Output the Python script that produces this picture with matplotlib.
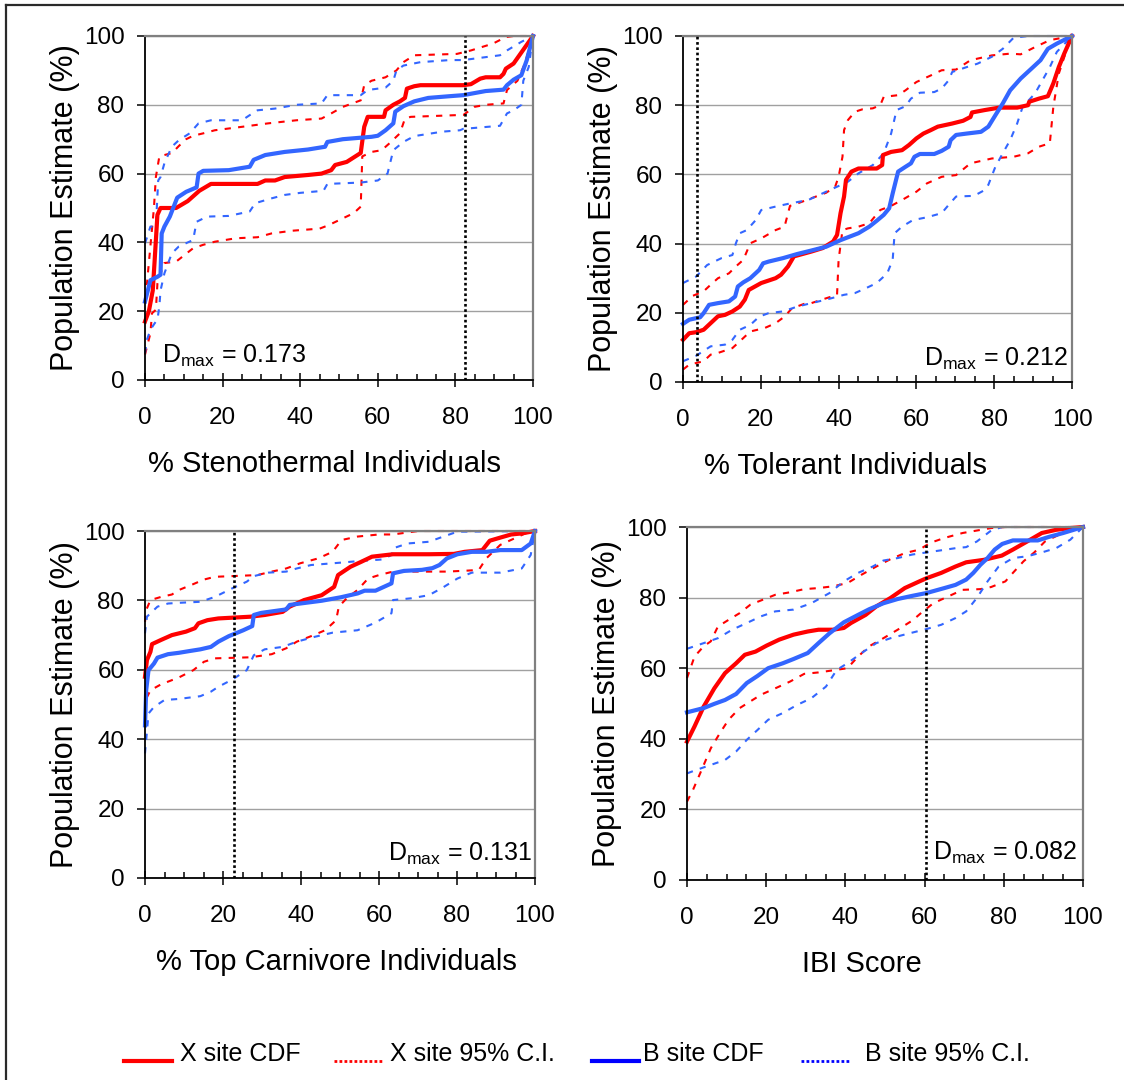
import matplotlib
matplotlib.use("Agg")
import matplotlib.pyplot as plt
from matplotlib.lines import Line2D
from matplotlib.ticker import MultipleLocator

plt.rcParams['font.family'] = ['Liberation Sans', 'DejaVu Sans']
plt.rcParams['mathtext.default'] = 'regular'

RED = '#ff0000'
BLUE = '#3366ff'

# ---- panel 1: % Stenothermal Individuals ----
sten_x_cdf_pct = [0, 1, 2, 2.5, 3.2, 4, 8, 11, 14, 17, 20, 29, 31, 33.5, 36, 42, 45.5, 48, 49, 52, 55.6, 56.5, 57.4, 61.6, 62, 64, 65.7, 67, 67.5, 69.4, 71, 82, 84, 86.4, 87.8, 91.5, 92.4, 93, 95, 100]
sten_x_cdf_est = [17, 20, 26, 35, 48, 50, 50, 52, 55, 57, 57, 57, 58, 58, 59, 59.6, 60, 61, 62.5, 63.4, 66, 73.6, 76.5, 76.5, 78.4, 80, 81, 82, 84.7, 85.4, 85.7, 85.7, 86, 87.6, 88, 88, 89, 90.5, 92, 100]
sten_b_cdf_pct = [0, 1.4, 3.2, 4, 4.3, 5, 6.4, 8.3, 10.6, 13.3, 13.8, 15, 21.6, 27, 28, 31, 36, 42, 46.4, 47, 51, 58.4, 60, 62, 64, 64.5, 66.6, 69.4, 73, 78.5, 82, 87.8, 92.4, 93.3, 95, 97, 98.4, 100]
sten_b_cdf_est = [22.8, 29, 30, 30.6, 42.6, 44.6, 47.5, 53, 54.7, 56, 60, 60.8, 61, 62, 64, 65.4, 66.3, 67, 67.8, 69.2, 70, 70.7, 71, 72.6, 74.6, 78, 79.6, 81, 82, 82.5, 82.8, 84, 84.4, 85.7, 87.3, 88.6, 93, 100]
sten_x_hi_pct = [0, 0.5, 2.3, 2.8, 3.7, 7, 8.7, 10.6, 12.4, 15, 18, 25, 31.7, 39, 45.5, 48, 51, 55.6, 56.5, 58.4, 62, 64.8, 66.6, 69.4, 80.4, 84, 89.7, 93, 95, 100]
sten_x_hi_est = [27.7, 28, 50, 59, 65, 66, 68, 70, 71, 71.7, 72.6, 73.6, 74.6, 75.5, 76, 77.5, 79.4, 81.3, 85.7, 87, 88, 90, 92.4, 94.4, 94.8, 95.8, 97.8, 99.7, 100, 100]
sten_x_lo_pct = [0, 1.4, 1.8, 2.8, 3.2, 4, 5, 8, 9.7, 12.4, 15, 18, 23.4, 29, 32.6, 38, 45, 47.3, 51, 53.8, 55.6, 56, 58.4, 61, 63, 65.7, 67, 68.5, 80.4, 82, 84.9, 87.8, 92.4, 93.3, 96, 97.9, 100]
sten_x_lo_est = [7.4, 13.6, 19.4, 20.4, 28, 31, 34, 34.4, 35.9, 38.3, 39.3, 40.2, 41.2, 41.5, 42.6, 43.4, 44, 45, 47, 48.5, 50.4, 65, 66.3, 66.8, 68.8, 71.7, 76, 76.5, 77, 77, 79.4, 80, 80.4, 84.3, 87, 92, 100]
sten_b_hi_pct = [0, 1.4, 2.8, 3.4, 4, 5, 6.9, 8.7, 11.5, 13.8, 17, 25, 27, 29, 33.5, 39, 45.5, 47, 55.6, 57.4, 62, 64, 64.8, 66.6, 71, 78.5, 82, 91.5, 93.3, 97, 100]
sten_b_hi_est = [39.7, 44.6, 44.6, 58, 59, 63, 67.8, 69.7, 71.7, 74.6, 75.5, 75.5, 77, 78.4, 78.9, 80, 80.4, 82.8, 82.8, 84.3, 85, 87, 90, 91.4, 92.4, 93, 93, 94.4, 95.8, 98.3, 100]
sten_b_lo_pct = [0, 0.5, 1.4, 2.5, 3.2, 3.7, 4, 5, 6.9, 8.7, 12.4, 13.3, 16, 21.6, 27, 28.4, 32.6, 36, 40, 46, 47, 55.6, 60, 62.5, 64, 66.6, 69.4, 76.7, 81.2, 82, 91.5, 93.3, 95, 97, 97.5, 98.9, 100]
sten_b_lo_est = [7.8, 11.7, 14.6, 16.5, 17.5, 21.4, 26, 31, 36.8, 38.8, 40.7, 46, 47.5, 47.7, 49, 51.4, 52.8, 53.8, 54.4, 55, 57, 57.4, 58, 60, 66.8, 69.2, 70.9, 72.2, 72.6, 73, 73.9, 77.5, 78.4, 80, 87, 91, 100]

# ---- panel 2: % Tolerant Individuals ----
tol_x_cdf_pct = [0, 1.6, 3.4, 5.3, 7.1, 9, 10.8, 12.7, 14.6, 15.9, 16.9, 20.1, 23.8, 25.2, 27, 28.5, 33, 35.9, 38.6, 39.6, 40.5, 41.4, 41.9, 43.3, 45.1, 49.8, 51.2, 51.4, 53.5, 56.3, 58.1, 60, 61.8, 63.7, 65.5, 69.2, 72, 73.9, 74.3, 77.6, 81.3, 85.9, 88.7, 89, 91.5, 93.8, 95.2, 96.6, 98, 100]
tol_x_cdf_est = [12.2, 14.1, 14.4, 15.1, 17, 19, 19.4, 20.4, 21.8, 23.8, 26.6, 28.6, 30, 31, 33.4, 36.3, 37.7, 38.7, 40.6, 42.5, 48.8, 53.6, 58.4, 60.8, 61.7, 61.7, 62.7, 65.6, 66.5, 67, 68.5, 70.4, 71.8, 72.8, 73.8, 74.7, 75.5, 76.6, 77.9, 78.6, 79.3, 79.3, 80, 81, 81.9, 82.6, 86.3, 91, 94.9, 100]
tol_b_cdf_pct = [0, 1.6, 4.4, 5.3, 6.7, 9, 11.8, 13.4, 14.1, 15.5, 17.3, 19.6, 20.6, 22, 25.7, 29.4, 33, 36.8, 40.5, 45.1, 47.9, 49.8, 51.6, 53, 53.9, 55.3, 57.2, 58.6, 59.5, 60.9, 64.6, 66.5, 68.3, 68.8, 70.2, 72.9, 76.6, 78.5, 80.3, 82.2, 84.1, 86.8, 89.6, 91.9, 93.8, 96.1, 100]
tol_b_cdf_est = [16.8, 18, 18.7, 19.9, 22.3, 22.8, 23.3, 24.7, 27.6, 28.8, 30, 32.4, 34.3, 34.8, 35.8, 37, 38, 39.1, 41, 43, 44.9, 46.6, 48.3, 50.2, 54.5, 60.8, 62.2, 63.2, 65.1, 65.9, 65.9, 66.8, 68, 69.9, 71.4, 71.8, 72.3, 73.8, 77.1, 80.5, 84.3, 87.7, 90.6, 93, 96.3, 97.8, 100]
tol_x_hi_pct = [0, 2.5, 5.3, 7.1, 9, 11.8, 13.6, 15.5, 17.3, 20.1, 23.8, 26.1, 27.5, 29.4, 33, 36.8, 39.1, 40, 41, 41.4, 42.4, 44.2, 46.1, 48.8, 50.7, 51.6, 55.3, 57.2, 60, 63.7, 66.5, 70.2, 73.9, 79.4, 84.1, 86.8, 90.5, 94.3, 100]
tol_x_hi_est = [22.3, 24.9, 26.2, 28.1, 30, 31.4, 33.4, 35.3, 40.1, 41.5, 43.9, 44.9, 50.9, 51.6, 53.1, 54.7, 56.4, 59.3, 65.1, 72.8, 75.7, 78.1, 78.8, 79.1, 80, 82.4, 82.9, 84.3, 86.7, 88.6, 90.1, 90.3, 93, 94.4, 94.9, 94.7, 96.8, 98.8, 100]
tol_x_lo_pct = [0, 1.6, 5.3, 7.1, 9, 12.7, 15.5, 17.3, 21, 23.8, 26.1, 28, 31.2, 33, 36.8, 39.6, 40, 41, 42.4, 45.1, 47.9, 50.7, 53.5, 56.3, 60, 62.7, 66.5, 70.2, 73.9, 79.4, 85, 88.7, 91.5, 94.3, 95.2, 96.6, 98, 100]
tol_x_lo_est = [3.6, 5, 6, 7.9, 8.4, 9.8, 12.7, 14.6, 15.6, 17, 18.9, 21.3, 22.6, 22.8, 24.2, 25.2, 35.3, 43.9, 44.4, 44.9, 45.9, 49.7, 50.9, 52.6, 55, 57.4, 59.3, 59.8, 63.2, 64.6, 65.1, 66.1, 68, 69, 79.5, 89.1, 93.9, 100]
tol_b_hi_pct = [0, 3.4, 6.2, 9.9, 12.7, 13.6, 14.6, 16.4, 18.7, 20.1, 23.8, 27.5, 32.2, 36.8, 40.5, 42.4, 45.1, 48.8, 51.6, 53.5, 54.9, 57.2, 58.6, 60.9, 64.6, 66.5, 68.3, 69.2, 72.9, 75.7, 79.4, 82.2, 85, 88.7, 100]
tol_b_hi_est = [28.6, 30.5, 33.8, 35.8, 36.7, 40.1, 43, 43.9, 46.8, 49.7, 50.7, 51.6, 52.6, 55, 56.9, 57.9, 60.3, 62.7, 66.1, 71.8, 78.6, 79.7, 81.9, 83.6, 83.8, 84.8, 87.2, 89.6, 91, 92, 94, 96.3, 99.5, 100, 100]
tol_b_lo_pct = [0, 3.4, 7.1, 10.8, 12.7, 14.6, 17.3, 19.6, 22, 25.7, 29.4, 33, 36.8, 41.4, 44.2, 47, 49.8, 52.5, 53.9, 54.4, 56.3, 59.1, 62.7, 66.5, 68.3, 70.2, 74.8, 77.6, 78.5, 80.3, 82.2, 84.1, 85.9, 87.3, 90.5, 92.4, 94.3, 96.1, 100]
tol_b_lo_est = [6, 7.6, 10.3, 10.8, 12.2, 15.1, 16.5, 18.9, 19.9, 20.4, 21.8, 22.8, 23.8, 25.2, 25.7, 27.1, 28.6, 31.4, 35.3, 43, 44.9, 46.8, 47.6, 48.8, 51.2, 53.6, 53.8, 55.5, 57, 62.2, 66.1, 69.9, 74.7, 79.5, 83.4, 87.2, 91, 95.4, 100]

# ---- panel 3: % Top Carnivore Individuals ----
carn_x_cdf_pct = [0, 0.5, 1.4, 1.8, 4.1, 6.9, 10.5, 12.8, 13.7, 16, 18.8, 27, 30.7, 35.3, 37.1, 40.8, 45.3, 48.5, 49.5, 52.7, 55.4, 58.2, 63.6, 72.8, 79.2, 82, 86.5, 88.4, 91.1, 93.9, 96.6, 100]
carn_x_cdf_est = [58, 62.8, 65.2, 67.4, 68.6, 70, 71, 72, 73.4, 74.3, 74.8, 75.3, 75.8, 76.7, 78.2, 80.1, 81.5, 83.9, 87.3, 89.7, 91.1, 92.6, 93.3, 93.3, 93.4, 94, 94.5, 97.2, 98.1, 99, 99.3, 100]
carn_b_cdf_pct = [0, 0.3, 0.9, 2.3, 3.2, 5.9, 8.7, 11.4, 14.2, 16.9, 18.8, 21.5, 25.2, 27.5, 27.9, 29.8, 36.2, 37.1, 39.8, 45.3, 50.2, 54.5, 56.3, 59.1, 63.2, 63.6, 66.4, 71, 73.7, 75.5, 77.4, 80.1, 83.8, 87.5, 91.1, 96.6, 98.9, 100]
carn_b_cdf_est = [44, 54.1, 59.9, 61.8, 63.5, 64.5, 64.9, 65.4, 65.9, 66.6, 68.1, 69.7, 71.4, 72.6, 75.8, 76.4, 77.4, 78.7, 79.1, 79.9, 80.9, 82, 82.8, 82.8, 84.9, 87.8, 88.5, 88.8, 89.3, 90.2, 92.1, 93.3, 94, 94, 94.5, 94.5, 96.4, 100]
carn_x_hi_pct = [0, 0.3, 1.4, 4.1, 6.9, 8.7, 12.4, 15.1, 17.9, 22.4, 28.8, 32.5, 36.2, 39.8, 44.4, 48.1, 50.4, 54.5, 60, 63.6, 70, 100]
carn_x_hi_est = [73.8, 77.2, 80.1, 81, 81.7, 83, 84.7, 86, 86.8, 87, 87.3, 88.3, 89.2, 90.7, 92.1, 94, 97.4, 98.4, 99, 99, 100, 100]
carn_x_lo_pct = [0, 0.5, 1.4, 4.1, 8.7, 12.4, 15.1, 17.9, 27, 32.5, 36.2, 38.9, 42.6, 46.2, 49, 49.7, 51.7, 54.5, 57.2, 60, 63.6, 68.2, 77.4, 82.9, 85.6, 87.5, 91.1, 94.8, 97.5, 100]
carn_x_lo_est = [48, 52.1, 54.1, 55.8, 57.8, 59.9, 62.3, 63.3, 63.6, 64.5, 66.2, 68.1, 69.7, 71.4, 74.3, 78.2, 80.6, 83, 86.3, 87.3, 88.3, 88.3, 88.3, 88.6, 88.8, 92.1, 96, 97.9, 99.3, 100]
carn_b_hi_pct = [0, 0.5, 1.4, 3.2, 5.9, 8.7, 14.2, 17.9, 22.4, 26.1, 27.9, 31.6, 36.2, 38.9, 42.6, 50.4, 54.5, 60.9, 63.2, 63.6, 67.3, 72.8, 76.5, 80.1, 100]
carn_b_hi_est = [70.5, 75.3, 76.3, 78.2, 79.1, 79.3, 79.6, 81, 83.5, 85.4, 87, 88, 88.3, 89.2, 90.2, 90.9, 91.3, 91.8, 93.1, 95, 96.4, 96.9, 98.4, 99.8, 100]
carn_b_lo_pct = [0, 0.3, 0.9, 2.3, 5, 8.7, 14.2, 16.9, 18.8, 22.4, 26.1, 27.9, 30.7, 35.3, 38.9, 43.5, 48.1, 54.5, 59.1, 63.2, 63.6, 68.2, 72.8, 76.5, 80.1, 83.8, 91.1, 96.6, 98.9, 100]
carn_b_lo_est = [35.9, 39.7, 47.4, 49.3, 51.3, 51.6, 52.4, 53.7, 55.1, 57.2, 59.9, 64.2, 65.9, 66.6, 68.1, 69.5, 70.7, 71.4, 73.6, 76.3, 80.1, 80.6, 81.5, 83.8, 86.3, 88, 88, 89.2, 93.1, 100]

# ---- panel 4: IBI Score ----
ibi_x_cdf_pct = [0, 1.9, 4.2, 6.9, 9.6, 12.4, 14.6, 17.3, 20.1, 23.3, 26.9, 30.5, 33.2, 36.9, 39.6, 41.4, 45.1, 47.8, 51.4, 55, 58.7, 60.5, 64.2, 67.8, 70.5, 75, 79.5, 82.3, 85.9, 89.6, 93.2, 96.8, 100]
ibi_x_cdf_est = [39.2, 43.5, 49.1, 54.3, 58.6, 61.4, 63.8, 64.7, 66.4, 68.1, 69.5, 70.4, 70.9, 70.9, 71.4, 72.8, 75.1, 77.5, 79.9, 82.7, 84.6, 85.5, 87, 88.8, 90, 90.7, 91.9, 93.6, 95.9, 98.3, 99.2, 99.7, 100]
ibi_b_cdf_pct = [0, 4.2, 6.9, 9.6, 12.4, 15.1, 17.8, 20.5, 24.2, 26.9, 30.5, 33.2, 36, 39.6, 43.2, 46, 49.6, 53.2, 56.9, 60.5, 65, 67.8, 70.5, 72.3, 74.1, 75.9, 77.7, 79.6, 82.3, 85.9, 88.6, 91.4, 95, 100]
ibi_b_cdf_est = [47.5, 48.7, 49.9, 51, 52.7, 55.8, 57.8, 60, 61.4, 62.6, 64.3, 67.1, 69.9, 73, 75.1, 76.7, 78.4, 79.6, 80.5, 81.3, 82.7, 83.6, 85.1, 87, 89.3, 91.2, 93.6, 95.2, 96.2, 96.2, 96.2, 97.2, 98.3, 100]
ibi_x_hi_pct = [0, 1.9, 4.2, 6, 7.8, 10.5, 13.3, 16, 19.6, 22.3, 26, 29.6, 33.2, 36.9, 40.5, 44.1, 47.8, 51.4, 55, 58.7, 61.4, 65, 69.6, 73.2, 76.8, 80.4, 100]
ibi_x_hi_est = [57.2, 63.3, 66.2, 67.6, 71.8, 73.7, 75.6, 78, 79.6, 80.8, 81.5, 82.4, 82.7, 83.2, 84.1, 86.5, 88.8, 90.9, 92.6, 93.6, 95.5, 96.9, 98.3, 99, 99.7, 100, 100]
ibi_x_lo_pct = [0, 1.5, 3.7, 6, 8.3, 10.5, 13.3, 16, 18.7, 22.3, 26, 29.6, 33.2, 36.9, 40.5, 43.2, 46, 49.6, 53.2, 56.9, 59.6, 62.2, 65.9, 69.6, 74.1, 76.8, 80.4, 82.3, 85, 87.7, 90.4, 93.2, 96.8, 100]
ibi_x_lo_est = [22.2, 25.5, 31.2, 37.3, 41.6, 45.4, 48.7, 50.6, 52.5, 54.3, 56.2, 58.4, 58.8, 59.4, 60, 63.3, 66.2, 68.5, 70.9, 73.5, 76.1, 78.4, 80.3, 82.2, 82.4, 83, 84.6, 87, 90.3, 92.8, 95.9, 97.4, 99.2, 100]
ibi_b_hi_pct = [0, 4.2, 7.8, 11.4, 15.1, 18.7, 22.3, 26.9, 31.4, 36, 39.6, 43.2, 46.9, 49.6, 53.2, 56.9, 60.5, 64.2, 67.8, 70.5, 73.2, 76.8, 79.6, 100]
ibi_b_hi_est = [65.5, 67.1, 68.5, 70.9, 72.8, 74.7, 76.1, 76.6, 78.4, 81.3, 84.6, 87, 88.8, 90.5, 91.2, 92.2, 92.8, 93.4, 94, 94.3, 95.9, 99, 100, 100]
ibi_b_lo_pct = [0, 2.4, 6, 9.6, 12.4, 15.1, 17.8, 20.5, 24.2, 27.8, 31.4, 35.1, 37.8, 40.5, 44.1, 47.8, 51.4, 55.9, 60.5, 64.2, 67.8, 70.5, 73.2, 75.9, 78.7, 82.3, 85.9, 89.6, 93.2, 96.8, 100]
ibi_b_lo_est = [30.2, 31.2, 32.6, 34, 36.4, 39.7, 42.5, 45.4, 47.3, 49.6, 51.5, 54.8, 59.5, 61.4, 64.3, 67.1, 68.5, 69.8, 71.1, 72.3, 74.2, 76.1, 79.9, 84.6, 88.8, 91.2, 91.7, 92.8, 94, 96.4, 100]

xlabels = ['% Stenothermal Individuals', '% Tolerant Individuals',
           '% Top Carnivore Individuals', 'IBI Score']
dmax_values = [0.173, 0.212, 0.131, 0.082]
dmax_locations = [82.6, 3.7, 22.7, 60.3]

W, H = 1124, 1080
fig = plt.figure(figsize=(W / 100, H / 100), dpi=100)

# axes boxes in pixels: left, top, right, bottom
boxes = [(145, 36, 533, 380), (683, 36, 1072, 382),
         (145, 531, 535, 878), (687, 527, 1083, 880)]
xlabel_centers = [324, 845, 336, 862]
text_spots = [(4.3, 4.9, 'left'), (98.9, 4.6, 'right'),
              (99.3, 5.1, 'right'), (98.4, 5.7, 'right')]

panels = [
    (sten_x_cdf_pct, sten_x_cdf_est, sten_b_cdf_pct, sten_b_cdf_est,
     sten_x_hi_pct, sten_x_hi_est, sten_x_lo_pct, sten_x_lo_est,
     sten_b_hi_pct, sten_b_hi_est, sten_b_lo_pct, sten_b_lo_est),
    (tol_x_cdf_pct, tol_x_cdf_est, tol_b_cdf_pct, tol_b_cdf_est,
     tol_x_hi_pct, tol_x_hi_est, tol_x_lo_pct, tol_x_lo_est,
     tol_b_hi_pct, tol_b_hi_est, tol_b_lo_pct, tol_b_lo_est),
    (carn_x_cdf_pct, carn_x_cdf_est, carn_b_cdf_pct, carn_b_cdf_est,
     carn_x_hi_pct, carn_x_hi_est, carn_x_lo_pct, carn_x_lo_est,
     carn_b_hi_pct, carn_b_hi_est, carn_b_lo_pct, carn_b_lo_est),
    (ibi_x_cdf_pct, ibi_x_cdf_est, ibi_b_cdf_pct, ibi_b_cdf_est,
     ibi_x_hi_pct, ibi_x_hi_est, ibi_x_lo_pct, ibi_x_lo_est,
     ibi_b_hi_pct, ibi_b_hi_est, ibi_b_lo_pct, ibi_b_lo_est),
]

for i, p in enumerate(panels):
    l, t, r, b = boxes[i]
    ax = fig.add_axes([l / W, 1 - b / H, (r - l) / W, (b - t) / H])
    (xc_x, xc_y, bc_x, bc_y, xh_x, xh_y, xl_x, xl_y,
     bh_x, bh_y, bl_x, bl_y) = p

    ci = dict(lw=1.5, dashes=(3, 3.5), clip_on=False)
    ax.plot(xh_x, xh_y, color=RED, **ci)
    ax.plot(xl_x, xl_y, color=RED, **ci)
    ax.plot(bh_x, bh_y, color=BLUE, **ci)
    ax.plot(bl_x, bl_y, color=BLUE, **ci)
    ax.plot(xc_x, xc_y, color=RED, lw=3.0, solid_joinstyle='round', clip_on=False)
    ax.plot(bc_x, bc_y, color=BLUE, lw=3.0, solid_joinstyle='round', clip_on=False)
    ax.axvline(dmax_locations[i], color='black', lw=1.9, ls=(0, (1, 1)), zorder=5)

    ax.set_xlim(0, 100)
    ax.set_ylim(0, 100)
    ax.set_xticks([0, 20, 40, 60, 80, 100])
    ax.set_yticks([0, 20, 40, 60, 80, 100])
    ax.xaxis.set_minor_locator(MultipleLocator(5))
    ax.grid(axis='y', color='#a0a0a0', lw=1)
    ax.set_axisbelow(True)

    for s in ['top', 'right']:
        ax.spines[s].set_color('#808080')
        ax.spines[s].set_linewidth(1.6)
    for s in ['left', 'bottom']:
        ax.spines[s].set_color('black')
        ax.spines[s].set_linewidth(1.3)

    ax.tick_params(axis='x', which='major', direction='inout', length=10.5,
                   width=1.1, pad=14, labelsize=17.5)
    ax.tick_params(axis='x', which='minor', direction='in', length=4.5, width=1.1)
    ax.tick_params(axis='y', which='major', direction='out', length=5.8,
                   width=1.1, pad=9, labelsize=17.5)

    ax.set_xlabel(xlabels[i], fontsize=21, va='center')
    ax.xaxis.set_label_coords((xlabel_centers[i] - l) / (r - l), -(84 / (b - t)))
    ax.set_ylabel('Population Estimate (%)', fontsize=22, va='center')
    ax.yaxis.set_label_coords(-(80 / (r - l)), 0.5)

    tx, ty, ha = text_spots[i]
    ax.text(tx, ty, 'D$_{max}$ = %.3f' % dmax_values[i], fontsize=18,
            ha=ha, va='baseline', zorder=6)

# outer frame (only top and left edges visible)
fig.add_artist(Line2D([6 / W, 6 / W], [0, 1 - 5 / H], color='#2a2a2a', lw=1.6))
fig.add_artist(Line2D([6 / W, 1], [1 - 5 / H, 1 - 5 / H], color='#2a2a2a', lw=1.6))

# legend row
leg_y = 1 - 1061 / H
txt_y = 1 - 1054 / H
legend_items = [
    (124, 172, 180, 'X site CDF', '#ff0000', '-', 3),
    (334, 382, 390, 'X site 95% C.I.', '#ff0000', (0, (1, 0.8)), 2),
    (592, 639, 643, 'B site CDF', '#0000ff', '-', 3),
    (801, 850, 865, 'B site 95% C.I.', '#0000ff', (0, (1, 0.8)), 2),
]
for x0, x1, tx, label, col, ls, lw in legend_items:
    fig.add_artist(Line2D([x0 / W, x1 / W], [leg_y, leg_y], color=col, ls=ls, lw=lw))
    fig.text(tx / W, txt_y, label, fontsize=18, ha='left', va='center')

fig.savefig('out.png', dpi=100)
